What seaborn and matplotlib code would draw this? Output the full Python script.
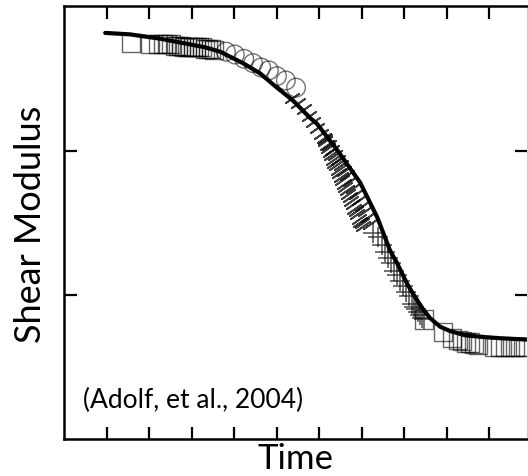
import numpy as np
import pandas as pd
import matplotlib
matplotlib.use("Agg")
import matplotlib.pyplot as plt
import seaborn as sns

sns.set_theme(style="white")
plt.rcParams['font.family'] = ['Lato', 'DejaVu Sans']

# master-curve fit (solid line)
fit_x = [0.97, 1.55, 2.26, 2.97, 3.32, 3.67, 4.21, 4.61, 5.01, 5.39, 5.79, 5.95, 6.42,
         6.97, 7.37, 7.67, 7.84, 8.07, 8.21, 8.45, 8.61, 8.85, 9.08, 9.44, 9.79, 10.26, 10.92]
fit_y = [2.82, 2.81, 2.78, 2.74, 2.72, 2.69, 2.61, 2.54, 2.44, 2.35, 2.23, 2.19, 2.01,
         1.78, 1.54, 1.31, 1.22, 1.08, 1.01, 0.90, 0.84, 0.78, 0.75, 0.72, 0.71, 0.70, 0.69]

# glassy squares (top left)
sq_top_x = [1.58, 2.02, 2.21, 2.33, 2.42, 2.52, 2.61, 2.68, 2.75, 2.82, 2.89, 2.96, 3.04,
            3.11, 3.18, 3.25, 3.32, 3.39, 3.46, 3.53]
sq_top_y = [2.75, 2.74, 2.74, 2.74, 2.74, 2.74, 2.73, 2.73, 2.73, 2.72, 2.72, 2.72, 2.72,
            2.72, 2.72, 2.72, 2.71, 2.71, 2.71, 2.70]

# circles
circ_x = [3.81, 4.02, 4.24, 4.45, 4.64, 4.82, 5.01, 5.22, 5.46]
circ_y = [2.69, 2.67, 2.64, 2.61, 2.58, 2.56, 2.52, 2.49, 2.44]

# dash markers, branch A
tickA_x = [5.37, 5.51, 5.65, 5.77, 5.86, 5.95, 6.05, 6.14, 6.24, 6.31, 6.38, 6.45, 6.52,
           6.59, 6.66, 6.73, 6.80, 6.87, 6.94, 7.01, 7.08, 7.15, 7.20]
tickA_y = [2.37, 2.33, 2.29, 2.24, 2.20, 2.16, 2.12, 2.08, 2.04, 2.01, 1.97, 1.94, 1.90,
           1.86, 1.83, 1.79, 1.74, 1.70, 1.66, 1.62, 1.58, 1.54, 1.49]

# dash markers, branch B (dense wedge)
tickB_x = [6.12, 6.15, 6.19, 6.22, 6.26, 6.29, 6.33, 6.36, 6.40, 6.44, 6.47, 6.51, 6.54,
           6.58, 6.61, 6.65, 6.68, 6.72, 6.75, 6.79, 6.82, 6.86, 6.89, 6.93, 6.97, 7.00, 7.04]
tickB_y = [2.09, 2.07, 2.04, 2.02, 1.99, 1.97, 1.94, 1.92, 1.90, 1.87, 1.85, 1.82, 1.80,
           1.77, 1.75, 1.73, 1.70, 1.68, 1.65, 1.63, 1.60, 1.58, 1.56, 1.53, 1.51, 1.50, 1.48]

# crosses
cross_x = [7.27, 7.39, 7.48, 7.55, 7.62, 7.69, 7.77, 7.84, 7.91, 7.98, 8.05, 8.12, 8.19,
           8.23, 8.28, 8.33, 8.38, 8.42, 8.47]
cross_y = [1.43, 1.40, 1.35, 1.30, 1.26, 1.22, 1.17, 1.14, 1.10, 1.06, 1.02, 0.99, 0.94,
           0.92, 0.90, 0.88, 0.86, 0.84, 0.83]

# rubbery squares (bottom right)
sq_bot_x = [8.47, 8.92, 9.13, 9.27, 9.37, 9.46, 9.55, 9.65, 9.74, 10.12, 10.26, 10.38,
            10.49, 10.61, 10.73, 10.85]
sq_bot_y = [0.83, 0.74, 0.70, 0.69, 0.68, 0.67, 0.67, 0.66, 0.65, 0.64, 0.64, 0.64,
            0.64, 0.64, 0.64, 0.64]

fig = plt.figure(figsize=(5.28, 4.76), dpi=100)
ax = fig.add_axes([64 / 528, 1 - 439 / 476, 463 / 528, 433 / 476])

mk = dict(ax=ax, legend=False, clip_on=True)
sns.scatterplot(x=sq_top_x, y=sq_top_y, marker='s', s=170, facecolor='none',
                edgecolor='black', linewidth=1.0, alpha=0.6, **mk)
sns.scatterplot(x=circ_x, y=circ_y, marker='o', s=180, facecolor='none',
                edgecolor='black', linewidth=1.0, alpha=0.55, **mk)
sns.scatterplot(x=tickA_x, y=tickA_y, marker=(2, 2, -55), s=130, color='black',
                linewidth=1.3, alpha=0.75, **mk)
sns.scatterplot(x=tickB_x, y=tickB_y, marker=(2, 2, -55), s=130, color='black',
                linewidth=1.3, alpha=0.75, **mk)
sns.scatterplot(x=cross_x, y=cross_y, marker='+', s=190, color='black',
                linewidth=1.1, alpha=0.7, **mk)
sns.scatterplot(x=sq_bot_x, y=sq_bot_y, marker='s', s=170, facecolor='none',
                edgecolor='black', linewidth=1.0, alpha=0.6, **mk)
sns.lineplot(x=fit_x, y=fit_y, color='black', linewidth=3.0, ax=ax, legend=False)

ax.set_xlim(0, 463 / 42.5)
ax.set_ylim(0, 433 / 144)
ax.set_xticks([1, 2, 3, 4, 5, 6, 7, 8, 9, 10])
ax.set_yticks([1, 2])
ax.tick_params(direction='in', length=9, width=1.6, color='black',
               top=True, right=True, bottom=True, left=True,
               labelbottom=False, labelleft=False)
for side in ['left', 'bottom', 'top']:
    ax.spines[side].set_color('black')
    ax.spines[side].set_linewidth(1.8)
ax.spines['right'].set_color('#cccccc')
ax.spines['right'].set_linewidth(0.8)
ax.set_xlabel('')
ax.set_ylabel('')

fig.text(31 / 528, 1 - 224 / 476, 'Shear Modulus', rotation=90, ha='center', va='center',
         fontsize=26, color='black')
fig.text(296 / 528, 1 - 469 / 476, 'Time', ha='center', va='baseline',
         fontsize=25, color='black')
fig.text(83 / 528, 1 - 408 / 476, '(Adolf, et al., 2004)', ha='left', va='baseline',
         fontsize=19, color='black')

fig.savefig('out.png', dpi=100)
